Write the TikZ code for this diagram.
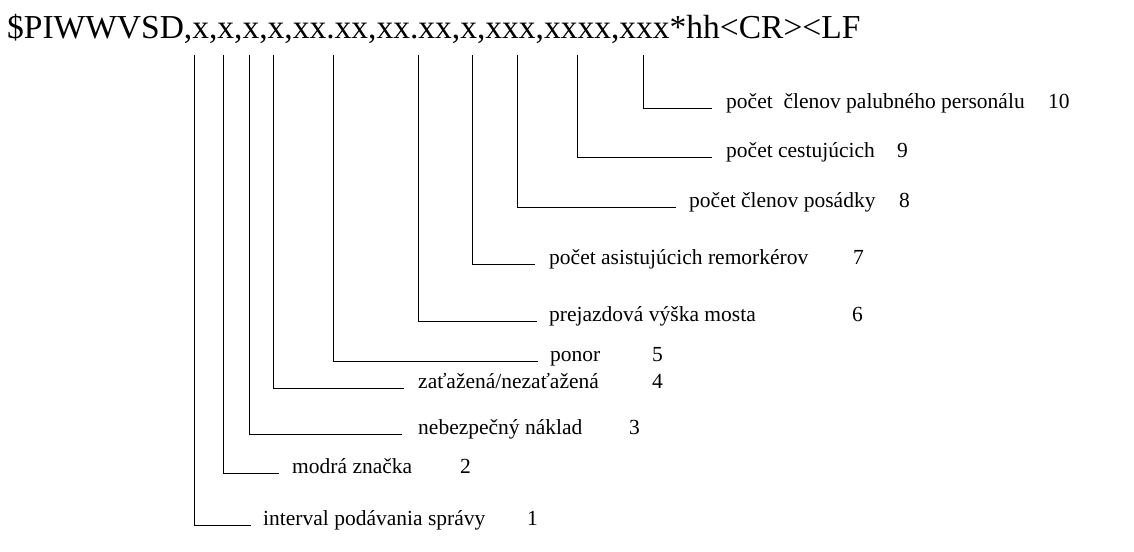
\documentclass[tikz,border=0pt]{standalone}
\usepackage{fontspec}
\setmainfont{Liberation Serif}
\begin{document}
\begin{tikzpicture}[x=1pt,y=-1pt,
  lbl/.style={anchor=base west,inner sep=0pt,font=\fontsize{21.5}{24}\selectfont},
  num/.style={anchor=base west,inner sep=0pt,font=\fontsize{21.5}{24}\selectfont},
  lead/.style={draw=black,line width=1pt}]
\useasboundingbox (0,0) rectangle (1134,551);
\node[anchor=base west,inner sep=0pt,font=\fontsize{33.5}{36}\selectfont] (title) at (7,38)
  {\$PIWWVSD,x,x,x,x,xx.xx,xx.xx,x,xxx,xxxx,xxx*hh<CR><LF};
% labels
\node[lbl] (l1) at (263,525) {interval podávania správy};
\node[lbl] (l2) at (292,473) {modrá značka};
\node[lbl] (l3) at (418,434) {nebezpečný náklad};
\node[lbl] (l4) at (418,388) {zaťažená/nezaťažená};
\node[lbl] (l5) at (550,361) {ponor};
\node[lbl] (l6) at (549,321) {prejazdová výška mosta};
\node[lbl] (l7) at (549,264) {počet asistujúcich remorkérov};
\node[lbl] (l8) at (689,207) {počet členov posádky};
\node[lbl] (l9) at (726,157) {počet cestujúcich};
\node[lbl] (l10) at (726,108) {počet\ \ členov palubného personálu};
% numbers
\node[num] (n1) at (527,525) {1};
\node[num] (n2) at (460,473) {2};
\node[num] (n3) at (629,434) {3};
\node[num] (n4) at (652,388) {4};
\node[num] (n5) at (652,361) {5};
\node[num] (n6) at (852,321) {6};
\node[num] (n7) at (853,264) {7};
\node[num] (n8) at (899,207) {8};
\node[num] (n9) at (897,157) {9};
\node[num] (n10) at (1048,108) {10};
% tick tops
\coordinate (t1) at (194,55);
\coordinate (t2) at (223,55);
\coordinate (t3) at (249,55);
\coordinate (t4) at (273,55);
\coordinate (t5) at (333,55);
\coordinate (t6) at (418,55);
\coordinate (t7) at (472,55);
\coordinate (t8) at (517,55);
\coordinate (t9) at (577,55);
\coordinate (t10) at (643,55);
% line ends
\coordinate (e1) at (251,525);
\coordinate (e2) at (279,473);
\coordinate (e3) at (402,434);
\coordinate (e4) at (404,388);
\coordinate (e5) at (538,361);
\coordinate (e6) at (537,321);
\coordinate (e7) at (535,264);
\coordinate (e8) at (676,207);
\coordinate (e9) at (712,157);
\coordinate (e10) at (712,108);
\foreach \i in {1,...,10} {\draw[lead] (t\i) |- (e\i);}
\end{tikzpicture}
\end{document}
